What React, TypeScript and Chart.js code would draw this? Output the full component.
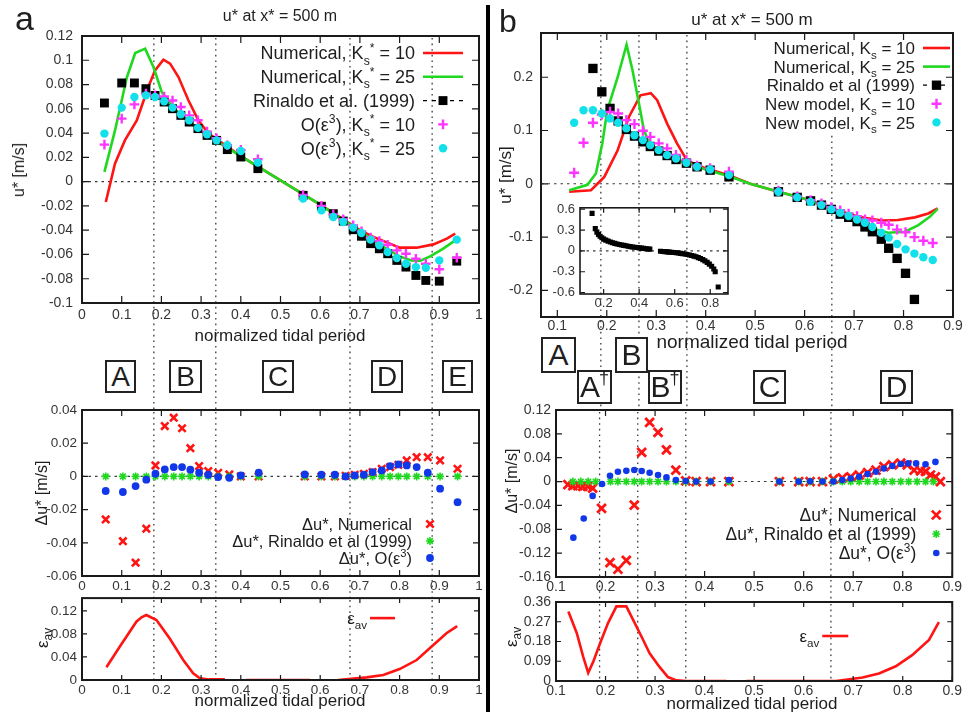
import React, { useEffect, useRef } from 'react';
import { Chart, registerables } from 'chart.js';
Chart.register(...registerables);

const FONT = '"Liberation Sans", Arial, Helvetica, sans-serif';
const INK = '#1e1e1e';
const TICK_INK = '#363636';
const RED = '#ff1414';
const GREEN = '#1fd81f';
const CYAN = '#12e0ea';
const MAGENTA = '#ff33ff';
const BLUE = '#1038e8';
const BLACK = '#000000';

Chart.defaults.font.family = FONT;

// ---------------- tick labels ----------------
const A_TICKS_X = [0, 0.1, 0.2, 0.3, 0.4, 0.5, 0.6, 0.7, 0.8, 0.9, 1];
const B_TICKS_X = [0.1, 0.2, 0.3, 0.4, 0.5, 0.6, 0.7, 0.8, 0.9];
const A_TOP_TICKS_Y = [-0.1, -0.08, -0.06, -0.04, -0.02, 0, 0.02, 0.04, 0.06, 0.08, 0.1, 0.12];
const A_MID_TICKS_Y = [-0.06, -0.04, -0.02, 0, 0.02, 0.04];
const A_BOT_TICKS_Y = [0, 0.04, 0.08, 0.12];
const B_TOP_TICKS_Y = [-0.2, -0.1, 0, 0.1, 0.2];
const B_MID_TICKS_Y = [-0.16, -0.12, -0.08, -0.04, 0, 0.04, 0.08, 0.12];
const B_BOT_TICKS_Y = [0, 0.09, 0.18, 0.27, 0.36];
const INSET_TICKS_X = [0.2, 0.4, 0.6, 0.8];
const INSET_TICKS_Y = [-0.6, -0.3, 0, 0.3, 0.6];

// section boundaries (normalized tidal period)
const A_BOUNDS = [0.181, 0.337, 0.675, 0.882];
const B_BOUNDS = [0.188, 0.265, 0.362, 0.655];

// ---------------- panel a, top: u* ----------------
const A_NUM10_X = [0.06, 0.083, 0.108, 0.138, 0.167, 0.184, 0.205, 0.222, 0.243, 0.268, 0.293, 0.319, 0.4, 0.5, 0.6, 0.7, 0.73, 0.76, 0.8, 0.843, 0.885, 0.919, 0.94];
const A_NUM10_Y = [-0.0168, 0.0148, 0.034, 0.0505, 0.078, 0.0917, 0.1005, 0.0972, 0.0862, 0.067, 0.0505, 0.0396, 0.021, 0.001, -0.019, -0.04, -0.045, -0.049, -0.0544, -0.0544, -0.0517, -0.047, -0.0429];
const A_NUM25_X = [0.0565, 0.083, 0.113, 0.134, 0.159, 0.18, 0.201, 0.23, 0.27, 0.32, 0.4, 0.5, 0.6, 0.7, 0.75, 0.8, 0.83, 0.851, 0.877, 0.91, 0.94];
const A_NUM25_Y = [0.008, 0.042, 0.086, 0.106, 0.1096, 0.0944, 0.0738, 0.061, 0.049, 0.037, 0.021, 0.001, -0.019, -0.041, -0.052, -0.0616, -0.065, -0.0654, -0.0616, -0.0552, -0.0484];
const A_MK_X = [0.0565, 0.1, 0.132, 0.161, 0.184, 0.207, 0.228, 0.249, 0.27, 0.292, 0.315, 0.339, 0.366, 0.4, 0.443,
  0.557, 0.603, 0.633, 0.658, 0.683, 0.704, 0.727, 0.749, 0.77, 0.793, 0.816, 0.841, 0.866, 0.9, 0.944];
const A_RINALDO = [0.0648, 0.0813, 0.0813, 0.0766, 0.071, 0.0656, 0.0601, 0.0546, 0.0491, 0.0437, 0.0381, 0.034, 0.0264, 0.0203, 0.0107,
  -0.0113, -0.0203, -0.0264, -0.0325, -0.0396, -0.045, -0.0511, -0.0553, -0.0594, -0.0649, -0.0704, -0.0773, -0.0814, -0.082, -0.0655];
const A_OE3_K10 = [0.0305, 0.0519, 0.0637, 0.0725, 0.0711, 0.0702, 0.0669, 0.0615, 0.0546, 0.0506, 0.0412, 0.0357, 0.03, 0.0262, 0.0185,
  -0.011, -0.02, -0.027, -0.031, -0.036, -0.041, -0.046, -0.049, -0.052, -0.0566, -0.0594, -0.0635, -0.0676, -0.0722, -0.0627];
const A_OE3_K25 = [0.0396, 0.061, 0.0697, 0.0711, 0.0697, 0.0662, 0.061, 0.0555, 0.0506, 0.0443, 0.039, 0.034, 0.03, 0.0253, 0.0157,
  -0.014, -0.0237, -0.0291, -0.0333, -0.0379, -0.0423, -0.0478, -0.0525, -0.058, -0.063, -0.0676, -0.0704, -0.0709, -0.0649, -0.0478];

// ---------------- panel a, middle: delta u* ----------------
const A_D_X = [0.0597, 0.103, 0.135, 0.162, 0.185, 0.2085, 0.231, 0.252, 0.273, 0.295, 0.318, 0.343, 0.371, 0.4, 0.445,
  0.561, 0.603, 0.637, 0.664, 0.687, 0.71, 0.732, 0.755, 0.776, 0.797, 0.818, 0.843, 0.871, 0.902, 0.946];
const A_D_NUM = [-0.0259, -0.039, -0.052, -0.0315, 0.0066, 0.0303, 0.0354, 0.029, 0.017, 0.0062, 0.0032, 0.0022, 0.0012, 0, 0,
  0, 0, 0, 0.0004, 0.001, 0.0016, 0.0026, 0.0046, 0.0056, 0.007, 0.0096, 0.0116, 0.0116, 0.0096, 0.0046];
const A_D_RIN = [0, 0, 0, 0, 0, 0, 0, 0, 0, 0, 0, 0, 0, 0, 0, 0, 0, 0, 0, 0, 0, 0, 0, 0, 0, 0, 0, 0, 0, 0];
const A_D_OE3 = [-0.0088, -0.0094, -0.0058, -0.002, 0.0016, 0.0042, 0.0056, 0.0056, 0.004, 0.0022, 0.001, -0.0004, -0.0008, 0.0006, 0.0022,
  0.0012, 0.001, 0.001, 0, 0.0006, 0.001, 0.0026, 0.0036, 0.0062, 0.0072, 0.0066, 0.0056, 0.0022, -0.0074, -0.0155];

// ---------------- panel a, bottom: eps_av ----------------
const A_EPS_X = [0.0615, 0.095, 0.137, 0.15, 0.162, 0.1875, 0.221, 0.255, 0.28, 0.297, 0.32, 0.36, 0.39, 0.414, 0.574, 0.61, 0.645, 0.717, 0.759, 0.8, 0.843, 0.885, 0.918, 0.945];
const A_EPS_Y = [0.022, 0.0577, 0.101, 0.1086, 0.1126, 0.104, 0.072, 0.0346, 0.0115, 0.003, 0.001, 0.001, null, 0, 0, null, 0, 0.0046, 0.0087, 0.019, 0.0346, 0.0606, 0.081, 0.0935];

// ---------------- panel b, top: u* ----------------
const B_NUM10_X = [0.124, 0.168, 0.195, 0.222, 0.245, 0.268, 0.289, 0.302, 0.322, 0.342, 0.362, 0.4, 0.447, 0.49, 0.547, 0.6, 0.654, 0.709, 0.756, 0.789, 0.823, 0.85, 0.869];
const B_NUM10_Y = [-0.015, -0.012, 0.013, 0.063, 0.126, 0.166, 0.17, 0.157, 0.113, 0.076, 0.044, 0.029, 0.016, 0, -0.015, -0.028, -0.046, -0.062, -0.069, -0.068, -0.063, -0.0556, -0.046];
const B_NUM25_X = [0.124, 0.161, 0.178, 0.191, 0.201, 0.222, 0.24, 0.252, 0.265, 0.275, 0.288, 0.305, 0.34, 0.4, 0.447, 0.49, 0.547, 0.6, 0.654, 0.706, 0.736, 0.769, 0.803, 0.83, 0.853, 0.869];
const B_NUM25_Y = [-0.012, -0.002, 0.0195, 0.076, 0.138, 0.2, 0.261, 0.213, 0.151, 0.101, 0.071, 0.061, 0.045, 0.027, 0.014, 0, -0.015, -0.028, -0.047, -0.067, -0.084, -0.092, -0.09, -0.0775, -0.062, -0.047];
const B_MK_X = [0.134, 0.153, 0.172, 0.19, 0.2066, 0.223, 0.2396, 0.256, 0.273, 0.288, 0.305, 0.322, 0.34, 0.361, 0.3825, 0.409, 0.447,
  0.547, 0.585, 0.612, 0.634, 0.654, 0.672, 0.689, 0.706, 0.722, 0.737, 0.755, 0.77, 0.787, 0.804, 0.822, 0.84, 0.859];
const B_RINALDO = [0.54, 0.32, 0.2165, 0.1726, 0.1415, 0.118, 0.102, 0.0895, 0.0788, 0.07, 0.0614, 0.053, 0.0456, 0.0387, 0.0319, 0.0256, 0.013,
  -0.015, -0.0255, -0.032, -0.04, -0.048, -0.057, -0.063, -0.071, -0.081, -0.09, -0.104, -0.121, -0.14, -0.168, -0.217, -0.3, -0.52];
const B_NEW_K10 = [0.0206, 0.077, 0.1145, 0.13, 0.135, 0.132, 0.1195, 0.112, 0.0995, 0.088, 0.0758, 0.0664, 0.054, 0.0445, 0.0338, 0.029, 0.0225,
  -0.013, -0.024, -0.031, -0.037, -0.044, -0.05, -0.056, -0.061, -0.067, -0.069, -0.073, -0.077, -0.086, -0.091, -0.1, -0.107, -0.111];
const B_NEW_K25 = [0.1145, 0.138, 0.138, 0.132, 0.1227, 0.1145, 0.104, 0.091, 0.082, 0.0726, 0.0632, 0.0538, 0.0476, 0.0394, 0.0319, 0.027, 0.0163,
  -0.015, -0.0255, -0.034, -0.04, -0.048, -0.0545, -0.0605, -0.067, -0.073, -0.081, -0.092, -0.101, -0.113, -0.123, -0.131, -0.138, -0.143];

// inset (Rinaldo et al., full range)
const B_IN_X = [0.135, 0.153, 0.162, 0.171, 0.18, 0.19, 0.2, 0.212, 0.225, 0.238, 0.25, 0.263, 0.275, 0.288, 0.3, 0.313, 0.325, 0.338, 0.35, 0.363, 0.375, 0.388, 0.4, 0.413, 0.425, 0.438, 0.45, 0.46,
  0.52, 0.533, 0.545, 0.558, 0.57, 0.583, 0.595, 0.608, 0.62, 0.633, 0.645, 0.658, 0.67, 0.683, 0.695, 0.708, 0.72, 0.733, 0.745, 0.758, 0.77, 0.783, 0.795, 0.808, 0.82, 0.828, 0.845];
const B_IN_Y = [0.54, 0.32, 0.27, 0.235, 0.21, 0.19, 0.17, 0.155, 0.14, 0.128, 0.118, 0.108, 0.1, 0.092, 0.085, 0.079, 0.073, 0.067, 0.062, 0.057, 0.052, 0.048, 0.044, 0.04, 0.036, 0.032, 0.028, 0.025,
  -0.005, -0.008, -0.011, -0.014, -0.017, -0.02, -0.023, -0.027, -0.031, -0.035, -0.04, -0.045, -0.051, -0.058, -0.066, -0.075, -0.085, -0.097, -0.11, -0.125, -0.143, -0.165, -0.19, -0.22, -0.26, -0.3, -0.52];

// ---------------- panel b, middle: delta u* ----------------
const B_D_NUM_X = [0.124, 0.134, 0.144, 0.154, 0.164, 0.174, 0.192, 0.209, 0.225, 0.242, 0.258, 0.273, 0.289, 0.306, 0.323, 0.342, 0.362, 0.383, 0.412, 0.449,
  0.551, 0.59, 0.613, 0.638, 0.66, 0.678, 0.695, 0.712, 0.729, 0.746, 0.762, 0.779, 0.796, 0.809, 0.823, 0.836, 0.846, 0.856, 0.866, 0.876];
const B_D_NUM = [-0.005, -0.007, -0.007, -0.008, -0.008, -0.011, -0.045, -0.136, -0.147, -0.132, -0.0395, 0.049, 0.0994, 0.0826, 0.053, 0.0193, 0.001, 0, 0, 0,
  0, 0, 0, 0, 0.004, 0.006, 0.008, 0.011, 0.015, 0.019, 0.025, 0.028, 0.031, 0.028, 0.019, 0.018, 0.017, 0.011, 0.008, 0];
const B_D_RIN_X = [0.134, 0.15, 0.165, 0.18, 0.21, 0.225, 0.242, 0.258, 0.273, 0.289, 0.306, 0.323, 0.342, 0.362, 0.383, 0.412, 0.449,
  0.551, 0.59, 0.613, 0.638, 0.66, 0.678, 0.695, 0.712, 0.729, 0.746, 0.762, 0.779, 0.796, 0.812, 0.829, 0.846, 0.862];
const B_D_RIN = [0, 0, 0, 0, 0, 0, 0, 0, 0, 0, 0, 0, 0, 0, 0, 0, 0, 0, 0, 0, 0, 0, 0, 0, 0, 0, 0, 0, 0, 0, 0, 0, 0, 0];
const B_D_OE3_X = [0.135, 0.156, 0.174, 0.193, 0.209, 0.225, 0.242, 0.258, 0.273, 0.289, 0.306, 0.323, 0.342, 0.362, 0.383, 0.412, 0.449,
  0.551, 0.59, 0.613, 0.638, 0.66, 0.678, 0.695, 0.712, 0.729, 0.746, 0.762, 0.779, 0.796, 0.811, 0.827, 0.846, 0.866];
const B_D_OE3 = [-0.094, -0.062, -0.024, -0.004, 0.0098, 0.0165, 0.018, 0.0193, 0.0176, 0.0148, 0.011, 0.007, 0.0025, 0.001, 0, 0, 0.0025,
  0, 0, 0.0005, 0, 0, 0.0025, 0.005, 0.008, 0.0126, 0.0165, 0.022, 0.026, 0.0294, 0.0305, 0.0305, 0.029, 0.033];

// ---------------- panel b, bottom: eps_av ----------------
const B_EPS_X = [0.125, 0.142, 0.155, 0.165, 0.175, 0.189, 0.205, 0.222, 0.242, 0.259, 0.276, 0.289, 0.309, 0.326, 0.343, 0.363, 0.444, 0.464, 0.484, 0.665, 0.685, 0.719, 0.752, 0.786, 0.819, 0.853, 0.873];
const B_EPS_Y = [0.317, 0.218, 0.11, 0.037, 0.087, 0.172, 0.264, 0.34, 0.34, 0.264, 0.187, 0.126, 0.064, 0.018, 0.003, 0, 0, null, 0, 0, 0.006, 0.016, 0.034, 0.067, 0.118, 0.187, 0.268];

// ---------------- layout ----------------
const A_TOP_AREA = { l: 82, t: 36, r: 479, b: 303 };
const A_MID_AREA = { l: 82, t: 410, r: 479, b: 576 };
const A_BOT_AREA = { l: 82, t: 598, r: 479, b: 680 };
const B_TOP_AREA = { l: 541, t: 33, r: 953, b: 317 };
const B_MID_AREA = { l: 556, t: 410, r: 953, b: 577 };
const B_BOT_AREA = { l: 556, t: 602, r: 953, b: 681 };
const INSET_AREA = { l: 580, t: 207, r: 728, b: 294 };

type Seg = [string, number];

function pts(xs: number[], ys: (number | null)[]) {
  return xs.map((x, i) => ({ x, y: ys[i] }));
}
function lineSet(xs: number[], ys: (number | null)[], color: string, order: number) {
  return { data: pts(xs, ys), showLine: true, borderColor: color, backgroundColor: color, borderWidth: 2.6, pointRadius: 0, pointHoverRadius: 0, spanGaps: false, tension: 0, order };
}
function markSet(xs: number[], ys: (number | null)[], color: string, style: string, r: number, order: number, bw = 0) {
  return { data: pts(xs, ys), showLine: false, pointStyle: style, pointRadius: r, pointHoverRadius: r, pointBackgroundColor: color, pointBorderColor: color, pointBorderWidth: bw, order };
}

function drawMarker(ctx: CanvasRenderingContext2D, style: string, x: number, y: number, r: number, color: string, lw: number) {
  ctx.save();
  ctx.setLineDash([]);
  ctx.fillStyle = color;
  ctx.strokeStyle = color;
  ctx.lineWidth = lw;
  if (style === 'rect') {
    const s = r * Math.SQRT1_2;
    ctx.fillRect(x - s, y - s, 2 * s, 2 * s);
  } else if (style === 'circle') {
    ctx.beginPath(); ctx.arc(x, y, r, 0, Math.PI * 2); ctx.fill();
  } else {
    ctx.beginPath();
    if (style === 'cross' || style === 'star') {
      ctx.moveTo(x - r, y); ctx.lineTo(x + r, y); ctx.moveTo(x, y - r); ctx.lineTo(x, y + r);
    }
    if (style === 'crossRot' || style === 'star') {
      const d = r * Math.SQRT1_2;
      ctx.moveTo(x - d, y - d); ctx.lineTo(x + d, y + d); ctx.moveTo(x - d, y + d); ctx.lineTo(x + d, y - d);
    }
    ctx.stroke();
  }
  ctx.restore();
}

function segFont(size: number, k: number) {
  return `${k ? (size * 0.68).toFixed(1) : size}px ${FONT}`;
}
function richWidth(ctx: CanvasRenderingContext2D, segs: Seg[], size: number) {
  let w = 0;
  for (const [t, k] of segs) { ctx.font = segFont(size, k); w += ctx.measureText(t).width; }
  return w;
}
function drawRich(ctx: CanvasRenderingContext2D, segs: Seg[], x0: number, base: number, size: number) {
  let x = x0;
  for (const [t, k] of segs) {
    ctx.font = segFont(size, k);
    const dy = k === 1 ? size * 0.28 : k === 2 ? -size * 0.42 : 0;
    ctx.fillText(t, x, base + dy);
    x += ctx.measureText(t).width;
  }
}

function gnuPlugin(spec: any) {
  return {
    id: 'gnu',
    beforeDatasetsDraw(chart: any) {
      const { ctx, chartArea: ca, scales } = chart;
      const x = scales.x, y = scales.y;
      ctx.save();
      ctx.strokeStyle = '#3a3a3a';
      ctx.lineWidth = 1.1;
      if (spec.zero) {
        ctx.setLineDash([2.5, 4]);
        const py = y.getPixelForValue(0);
        ctx.beginPath(); ctx.moveTo(ca.left, py); ctx.lineTo(ca.right, py); ctx.stroke();
      }
      ctx.setLineDash([1.6, 4]);
      ctx.lineWidth = 1.3;
      for (const v of spec.vlines || []) {
        const px = x.getPixelForValue(v);
        ctx.beginPath(); ctx.moveTo(px, ca.top + 2); ctx.lineTo(px, ca.bottom + (spec.extBottom || 0)); ctx.stroke();
      }
      ctx.restore();
    },
    afterDatasetsDraw(chart: any) {
      const { ctx, chartArea: ca, scales } = chart;
      const x = scales.x, y = scales.y;
      const L = spec.legend;
      ctx.save();
      let rows: any[] = [];
      if (L) {
        rows = L.items.map((it: any, i: number) => ({ it, yc: ca.top + L.y0 + i * L.dy, w: richWidth(ctx, it.segs, L.size) }));
        if (L.opaque) {
          const maxW = Math.max(...rows.map((r) => r.w));
          const left = ca.right + L.textRight - maxW - 4;
          ctx.fillStyle = '#ffffff';
          ctx.fillRect(left, ca.top + 2, ca.right - 2 - left, L.y0 + L.dy * (rows.length - 0.5));
        }
      }
      // frame + inward ticks on all sides
      const tl = spec.tickLen;
      ctx.setLineDash([]);
      ctx.strokeStyle = '#1a1a1a';
      ctx.lineWidth = 1.2;
      ctx.beginPath();
      for (const t of x.ticks) {
        const px = x.getPixelForValue(t.value);
        ctx.moveTo(px, ca.bottom); ctx.lineTo(px, ca.bottom - tl);
        ctx.moveTo(px, ca.top); ctx.lineTo(px, ca.top + tl);
      }
      for (const t of y.ticks) {
        const py = y.getPixelForValue(t.value);
        ctx.moveTo(ca.left, py); ctx.lineTo(ca.left + tl, py);
        ctx.moveTo(ca.right, py); ctx.lineTo(ca.right - tl, py);
      }
      ctx.stroke();
      ctx.lineWidth = spec.frameW || 2;
      ctx.strokeRect(ca.left, ca.top, ca.right - ca.left, ca.bottom - ca.top);
      // legend
      if (L) {
        for (const r of rows) {
          const it = r.it;
          ctx.fillStyle = INK;
          ctx.textBaseline = 'alphabetic';
          ctx.textAlign = 'left';
          drawRich(ctx, it.segs, ca.right + L.textRight - r.w, r.yc + L.size * 0.36, L.size);
          const x1 = ca.right + L.sx1, x2 = ca.right + L.sx2;
          if (it.kind === 'line' || it.kind === 'dashpoint') {
            ctx.save();
            ctx.strokeStyle = it.color;
            ctx.lineWidth = it.kind === 'line' ? 2.6 : 1.3;
            ctx.setLineDash(it.kind === 'line' ? [] : [4, 5]);
            ctx.beginPath(); ctx.moveTo(x1, r.yc); ctx.lineTo(x2, r.yc); ctx.stroke();
            ctx.restore();
          }
          if (it.kind !== 'line') drawMarker(ctx, it.style, (x1 + x2) / 2, r.yc, it.r, it.color, it.lw || 0);
        }
      }
      ctx.restore();
    },
  };
}

const fmt = (v: number) => String(Math.round(v * 1000) / 1000);

function buildConfig(s: any) {
  const { rect, area } = s;
  const padding = {
    left: area.l - rect.l - s.yW,
    top: area.t - rect.t,
    right: rect.l + rect.w - area.r,
    bottom: rect.t + rect.h - area.b - s.xH,
  };
  const tickFont = { family: FONT, size: s.font };
  return {
    type: 'scatter',
    data: { datasets: s.datasets },
    options: {
      responsive: false,
      animation: false,
      events: [],
      layout: { padding },
      plugins: { legend: { display: false }, tooltip: { enabled: false } },
      scales: {
        x: {
          type: 'linear', min: s.xMin, max: s.xMax,
          grid: { display: false, drawTicks: false }, border: { display: false },
          ticks: { autoSkip: false, maxRotation: 0, padding: s.xPad, font: tickFont, color: TICK_INK, callback: fmt },
          afterBuildTicks: (sc: any) => { sc.ticks = s.xTicks.map((v: number) => ({ value: v })); },
          afterFit: (sc: any) => { sc.height = s.xH; },
        },
        y: {
          type: 'linear', min: s.yMin, max: s.yMax,
          grid: { display: false, drawTicks: false }, border: { display: false },
          ticks: { autoSkip: false, padding: s.yPad, font: tickFont, color: TICK_INK, callback: fmt },
          afterBuildTicks: (sc: any) => { sc.ticks = s.yTicks.map((v: number) => ({ value: v })); },
          afterFit: (sc: any) => { sc.width = s.yW; },
        },
      },
    },
    plugins: [gnuPlugin(s)],
  };
}

const KS10: Seg[] = [['Numerical, K', 0], ['s', 1], ['*', 2], [' = 10', 0]];
const KS25: Seg[] = [['Numerical, K', 0], ['s', 1], ['*', 2], [' = 25', 0]];

const SPECS: any[] = [
  {
    rect: { l: 0, t: 0, w: 490, h: 412 }, area: A_TOP_AREA, yW: 60, xH: 25, font: 14, xPad: 4, yPad: 9,
    xMin: 0, xMax: 1, yMin: -0.1, yMax: 0.12, xTicks: A_TICKS_X, yTicks: A_TOP_TICKS_Y,
    zero: true, vlines: A_BOUNDS, extBottom: A_MID_AREA.t - A_TOP_AREA.b, tickLen: 7,
    datasets: [
      lineSet(A_NUM10_X, A_NUM10_Y, RED, 5),
      lineSet(A_NUM25_X, A_NUM25_Y, GREEN, 4),
      markSet(A_MK_X, A_RINALDO, BLACK, 'rect', 6.3, 3),
      markSet(A_MK_X, A_OE3_K10, MAGENTA, 'cross', 4.8, 2, 2.4),
      markSet(A_MK_X, A_OE3_K25, CYAN, 'circle', 4.2, 1),
    ],
    legend: {
      textRight: -64, sx1: -56, sx2: -16, y0: 17, dy: 23.8, size: 18,
      items: [
        { segs: KS10, kind: 'line', color: RED },
        { segs: KS25, kind: 'line', color: GREEN },
        { segs: [['Rinaldo et al. (1999)', 0]], kind: 'dashpoint', color: BLACK, style: 'rect', r: 6.3 },
        { segs: [['O(ε', 0], ['3', 2], ['), K', 0], ['s', 1], ['*', 2], [' = 10', 0]], kind: 'point', color: MAGENTA, style: 'cross', r: 4.8, lw: 2.4 },
        { segs: [['O(ε', 0], ['3', 2], ['), K', 0], ['s', 1], ['*', 2], [' = 25', 0]], kind: 'point', color: CYAN, style: 'circle', r: 4.2 },
      ],
    },
  },
  {
    rect: { l: 0, t: 380, w: 490, h: 224 }, area: A_MID_AREA, yW: 60, xH: 20, font: 13.5, xPad: 2, yPad: 5,
    xMin: 0, xMax: 1, yMin: -0.06, yMax: 0.04, xTicks: A_TICKS_X, yTicks: A_MID_TICKS_Y,
    zero: true, vlines: A_BOUNDS, extBottom: A_BOT_AREA.t - A_MID_AREA.b, tickLen: 6,
    datasets: [
      markSet(A_D_X, A_D_NUM, RED, 'crossRot', 5.2, 3, 2.6),
      markSet(A_D_X, A_D_RIN, GREEN, 'star', 4, 2, 1.6),
      markSet(A_D_X, A_D_OE3, BLUE, 'circle', 3.9, 1),
    ],
    legend: {
      textRight: -67, sx1: -56, sx2: -42, y0: 114, dy: 17, size: 16.5,
      items: [
        { segs: [['Δu*, Numerical', 0]], kind: 'point', color: RED, style: 'crossRot', r: 5.2, lw: 2.6 },
        { segs: [['Δu*, Rinaldo et al (1999)', 0]], kind: 'point', color: GREEN, style: 'star', r: 4, lw: 1.6 },
        { segs: [['Δu*, O(ε', 0], ['3', 2], [')', 0]], kind: 'point', color: BLUE, style: 'circle', r: 3.9 },
      ],
    },
  },
  {
    rect: { l: 0, t: 585, w: 490, h: 132 }, area: A_BOT_AREA, yW: 60, xH: 20, font: 13.5, xPad: 2, yPad: 5,
    xMin: 0, xMax: 1, yMin: 0, yMax: 0.142, xTicks: A_TICKS_X, yTicks: A_BOT_TICKS_Y,
    zero: false, vlines: A_BOUNDS, extBottom: 0, tickLen: 5,
    datasets: [lineSet(A_EPS_X, A_EPS_Y, RED, 1)],
    legend: {
      textRight: -112, sx1: -109, sx2: -84, y0: 20, dy: 18, size: 17,
      items: [{ segs: [['ε', 0], ['av', 1]], kind: 'line', color: RED }],
    },
  },
  {
    rect: { l: 490, t: 0, w: 474, h: 412 }, area: B_TOP_AREA, yW: 45, xH: 25, font: 14, xPad: 1, yPad: 8,
    xMin: 0.067, xMax: 0.9, yMin: -0.25, yMax: 0.283, xTicks: B_TICKS_X, yTicks: B_TOP_TICKS_Y,
    zero: true, vlines: B_BOUNDS, extBottom: B_MID_AREA.t - B_TOP_AREA.b, tickLen: 7,
    datasets: [
      lineSet(B_NUM10_X, B_NUM10_Y, RED, 5),
      lineSet(B_NUM25_X, B_NUM25_Y, GREEN, 4),
      markSet(B_MK_X, B_RINALDO, BLACK, 'rect', 6.6, 3),
      markSet(B_MK_X, B_NEW_K10, MAGENTA, 'cross', 5, 2, 2.4),
      markSet(B_MK_X, B_NEW_K25, CYAN, 'circle', 4.2, 1),
    ],
    legend: {
      textRight: -38, sx1: -30, sx2: -3, y0: 15, dy: 18.6, size: 17,
      opaque: true,
      items: [
        { segs: [['Numerical, K', 0], ['s', 1], [' = 10', 0]], kind: 'line', color: RED },
        { segs: [['Numerical, K', 0], ['s', 1], [' = 25', 0]], kind: 'line', color: GREEN },
        { segs: [['Rinaldo et al (1999)', 0]], kind: 'dashpoint', color: BLACK, style: 'rect', r: 6.6 },
        { segs: [['New model, K', 0], ['s', 1], [' = 10', 0]], kind: 'point', color: MAGENTA, style: 'cross', r: 5, lw: 2.4 },
        { segs: [['New model, K', 0], ['s', 1], [' = 25', 0]], kind: 'point', color: CYAN, style: 'circle', r: 4.2 },
      ],
    },
  },
  {
    rect: { l: 540, t: 195, w: 200, h: 120 }, area: INSET_AREA, yW: 34, xH: 18, font: 13, xPad: 2, yPad: 5,
    xMin: 0.067, xMax: 0.9, yMin: -0.62, yMax: 0.62, xTicks: INSET_TICKS_X, yTicks: INSET_TICKS_Y,
    zero: true, vlines: [], extBottom: 0, tickLen: 5, frameW: 1.6,
    datasets: [markSet(B_IN_X, B_IN_Y, BLACK, 'rect', 3.6, 1)],
  },
  {
    rect: { l: 490, t: 380, w: 474, h: 224 }, area: B_MID_AREA, yW: 55, xH: 20, font: 14, xPad: 2, yPad: 5,
    xMin: 0.1, xMax: 0.9, yMin: -0.16, yMax: 0.12, xTicks: B_TICKS_X, yTicks: B_MID_TICKS_Y,
    zero: true, vlines: B_BOUNDS, extBottom: B_BOT_AREA.t - B_MID_AREA.b, tickLen: 6,
    datasets: [
      markSet(B_D_NUM_X, B_D_NUM, RED, 'crossRot', 6.2, 3, 2.8),
      markSet(B_D_RIN_X, B_D_RIN, GREEN, 'star', 4, 2, 1.6),
      markSet(B_D_OE3_X, B_D_OE3, BLUE, 'circle', 3.3, 1),
    ],
    legend: {
      textRight: -36, sx1: -22, sx2: -10, y0: 105, dy: 19, size: 17.5,
      items: [
        { segs: [['Δu*, Numerical', 0]], kind: 'point', color: RED, style: 'crossRot', r: 6.2, lw: 2.8 },
        { segs: [['Δu*, Rinaldo et al (1999)', 0]], kind: 'point', color: GREEN, style: 'star', r: 4, lw: 1.6 },
        { segs: [['Δu*, O(ε', 0], ['3', 2], [')', 0]], kind: 'point', color: BLUE, style: 'circle', r: 3.3 },
      ],
    },
  },
  {
    rect: { l: 490, t: 588, w: 474, h: 129 }, area: B_BOT_AREA, yW: 55, xH: 20, font: 14, xPad: 2, yPad: 5,
    xMin: 0.1, xMax: 0.9, yMin: 0, yMax: 0.36, xTicks: B_TICKS_X, yTicks: B_BOT_TICKS_Y,
    zero: false, vlines: B_BOUNDS, extBottom: 0, tickLen: 5,
    datasets: [lineSet(B_EPS_X, B_EPS_Y, RED, 1)],
    legend: {
      textRight: -133, sx1: -130, sx2: -104, y0: 34, dy: 18, size: 17,
      items: [{ segs: [['ε', 0], ['av', 1]], kind: 'line', color: RED }],
    },
  },
];

function ChartBox({ spec }: { spec: any }) {
  const ref = useRef<HTMLCanvasElement>(null);
  useEffect(() => {
    const chart = new Chart(ref.current as HTMLCanvasElement, buildConfig(spec) as any);
    return () => chart.destroy();
  }, [spec]);
  const { l, t, w, h } = spec.rect;
  return (
    <canvas ref={ref} width={w} height={h}
      style={{ position: 'absolute', left: l, top: t, width: w, height: h }} />
  );
}

function Label({ x, y, size, children, rotate = false, anchor = 'middle' }: any) {
  const style: any = {
    position: 'absolute', left: x, top: y, fontSize: size, lineHeight: 1, whiteSpace: 'nowrap',
    color: INK, fontFamily: FONT,
  };
  if (rotate) style.transform = 'translate(-50%,-50%) rotate(-90deg)';
  else if (anchor === 'middle') style.transform = 'translateX(-50%)';
  return <div style={style}>{children}</div>;
}

function Box({ l, t, w, h, size = 28, children }: any) {
  return (
    <div style={{
      position: 'absolute', left: l, top: t, width: w, height: h, boxSizing: 'border-box',
      border: '2px solid #222', background: '#fff', display: 'flex', alignItems: 'center',
      justifyContent: 'center', fontSize: size, fontFamily: FONT, color: INK, lineHeight: 1,
    }}>{children}</div>
  );
}

const Dag = () => <span style={{ fontSize: 18, position: 'relative', top: -9, marginLeft: -1 }}>†</span>;
const Sub = ({ children }: any) => <span style={{ fontSize: '0.7em', position: 'relative', top: '0.3em' }}>{children}</span>;

export default function App() {
  return (
    <div style={{ position: 'absolute', left: 0, top: 0, width: 964, height: 717, background: '#fff', overflow: 'hidden' }}>
      {SPECS.map((s, i) => <ChartBox key={i} spec={s} />)}
      <div style={{ position: 'absolute', left: 486, top: 5, width: 4, height: 707, background: '#000' }} />

      {/* panel a texts */}
      <Label x={15} y={1} size={34} anchor="left">a</Label>
      <Label x={280} y={8} size={16}>u* at x* = 500 m</Label>
      <Label x={19} y={170} size={16} rotate>u* [m/s]</Label>
      <Label x={280} y={327} size={17}>normalized tidal period</Label>
      <Label x={42} y={493} size={16} rotate>Δu* [m/s]</Label>
      <Label x={42} y={638} size={17} rotate>ε<Sub>av</Sub></Label>
      <Label x={280} y={692} size={17}>normalized tidal period</Label>
      <Box l={105} t={360} w={31} h={33}>A</Box>
      <Box l={169} t={360} w={33} h={33}>B</Box>
      <Box l={262} t={360} w={32} h={33}>C</Box>
      <Box l={371} t={360} w={32} h={33}>D</Box>
      <Box l={442} t={360} w={31} h={33}>E</Box>

      {/* panel b texts */}
      <Label x={499} y={5} size={32} anchor="left">b</Label>
      <Label x={752} y={11} size={17}>u* at x* = 500 m</Label>
      <Label x={505} y={175} size={17} rotate>u* [m/s]</Label>
      <Label x={752} y={332} size={19}>normalized tidal period</Label>
      <Label x={512} y={481} size={16} rotate>Δu* [m/s]</Label>
      <Label x={511} y={637} size={17} rotate>ε<Sub>av</Sub></Label>
      <Label x={752} y={695} size={17}>normalized tidal period</Label>
      <Box l={541} t={337} w={35} h={36} size={30}>A</Box>
      <Box l={615} t={337} w={33} h={36} size={30}>B</Box>
      <Box l={577} t={370} w={35} h={34} size={30}>A<Dag /></Box>
      <Box l={648} t={370} w={34} h={34} size={30}>B<Dag /></Box>
      <Box l={753} t={370} w={33} h={34} size={30}>C</Box>
      <Box l={880} t={370} w={33} h={34} size={30}>D</Box>
    </div>
  );
}
